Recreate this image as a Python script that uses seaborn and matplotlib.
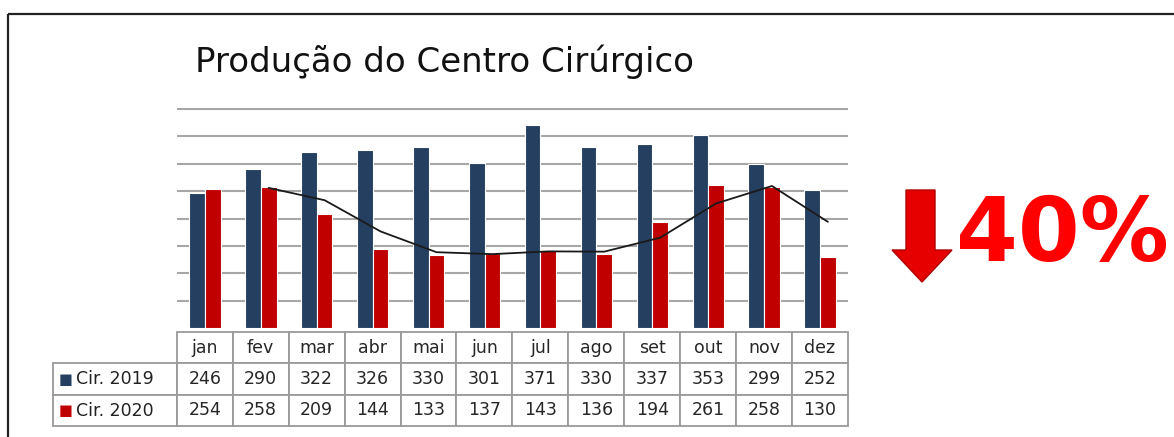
import numpy as np
import pandas as pd
import matplotlib
matplotlib.use("Agg")
import matplotlib.pyplot as plt
from matplotlib.patches import Polygon, Rectangle
import seaborn as sns

months = ["jan", "fev", "mar", "abr", "mai", "jun", "jul", "ago", "set", "out", "nov", "dez"]
cir_2019 = [246, 290, 322, 326, 330, 301, 371, 330, 337, 353, 299, 252]
cir_2020 = [254, 258, 209, 144, 133, 137, 143, 136, 194, 261, 258, 130]
series_names = ["Cir. 2019", "Cir. 2020"]
colors = ["#253f61", "#c00000"]
title = "Produção do Centro Cirúrgico"
badge = "40%"

sns.set_theme(style="white")
plt.rcParams["font.family"] = ["DejaVu Sans"]

df = pd.DataFrame({
    "mes": months * 2,
    "valor": cir_2019 + cir_2020,
    "serie": [series_names[0]] * len(months) + [series_names[1]] * len(months),
})

W, H = 1174, 437
fig = plt.figure(figsize=(W / 100, H / 100), dpi=100)

ax = fig.add_axes([177 / W, 1 - 328 / H, 671 / W, 220 / H], zorder=1)
ax.patch.set_alpha(0)
sns.barplot(data=df, x="mes", y="valor", hue="serie", palette=colors, saturation=1,
            width=0.56, edgecolor="white", linewidth=0.8, ax=ax, legend=False)

# media movel de 2 periodos (linha de tendencia)
media = pd.Series(cir_2020).rolling(2).mean()
ax.plot(np.arange(len(months)) + 0.14, media, color="#1a1a1a", lw=1.3, zorder=3)

ax.set_xlim(-0.5, len(months) - 0.5)
ax.set_ylim(0, 402)
ax.set_yticks(np.arange(50, 401, 50))
ax.yaxis.grid(True, color="#a6a6a6", lw=1.5)
ax.set_axisbelow(True)
ax.set_xticks([])
ax.set_yticklabels([])
ax.tick_params(left=False, bottom=False)
ax.set_xlabel("")
ax.set_ylabel("")
sns.despine(ax=ax, left=True, bottom=True)

# tabela de dados
cell_text = [[""] + months,
             [""] + [str(v) for v in cir_2019],
             [""] + [str(v) for v in cir_2020]]
lab_w = 124 / 671
tab = ax.table(cellText=cell_text, colWidths=[124] + [56] * len(months), cellLoc="center",
               bbox=[-lab_w, (328 - 426) / 220, 1 + lab_w, 94 / 220])
tab.auto_set_font_size(False)
tab.set_fontsize(12.5)
for (r, c), cell in tab.get_celld().items():
    cell.set_edgecolor("#9a9a9a")
    cell.set_linewidth(1.3)
    if r == 0 and c == 0:
        cell.visible_edges = ""

# camada em pixels por cima (moldura, titulo, seta, rotulos da tabela)
top = fig.add_axes([0, 0, 1, 1], zorder=2)
top.set_xlim(0, W)
top.set_ylim(H, 0)
top.axis("off")

for name, col, yc in zip(series_names, colors, [379.5, 410.5]):
    top.text(66, yc, "■", color=col, fontsize=10.5, ha="center", va="center")
    top.text(76, yc, name, fontsize=12.5, ha="left", va="center", color="#222222")

top.add_patch(Rectangle((8, 14), 1300, 600, fill=False, ec="#222222", lw=1.6))
top.text(195, 62, title, fontsize=24.5, ha="left", va="center", color="#111111")

arrow = [(906, 190), (935, 190), (935, 250), (952, 250), (922, 282), (892, 250), (906, 250)]
top.add_patch(Polygon(arrow, closed=True, fc="#e60000", ec="#b00000", lw=1))
top.text(956, 237, badge, fontsize=64, fontweight="bold", family=["DejaVu Sans"],
         color="#ff0000", ha="left", va="center")

fig.savefig("out.png", dpi=100)
